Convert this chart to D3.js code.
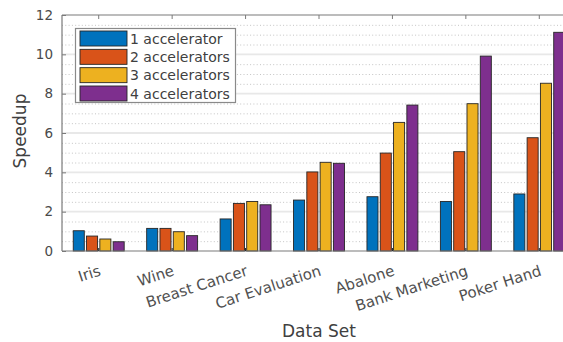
<!DOCTYPE html>
<html>
<head>
<meta charset="utf-8">
<script src="https://cdn.jsdelivr.net/npm/d3@7"></script>
<style>
  body { margin: 0; background: #fff; }
  svg { display: block; font-family: "DejaVu Sans", sans-serif; }
</style>
</head>
<body>
<svg id="chart" width="563" height="342"></svg>
<script>
// Data sets on the x axis
const dataSets = ["Iris", "Wine", "Breast Cancer", "Car Evaluation", "Abalone", "Bank Marketing", "Poker Hand"];
// Series names (number of accelerators)
const seriesNames = ["1 accelerator", "2 accelerators", "3 accelerators", "4 accelerators"];
// Speedup per data set, one array per series
const speedup1 = [1.03, 1.15, 1.63, 2.59, 2.76, 2.52, 2.90];
const speedup2 = [0.76, 1.15, 2.42, 4.02, 4.98, 5.05, 5.76];
const speedup3 = [0.61, 0.98, 2.52, 4.51, 6.54, 7.49, 8.53];
const speedup4 = [0.47, 0.78, 2.35, 4.46, 7.42, 9.91, 11.12];
const yTicks = [0, 2, 4, 6, 8, 10, 12];
const seriesColors = ["#0072BD", "#D95319", "#EDB120", "#7E2F8E"];

const series = [speedup1, speedup2, speedup3, speedup4];

const svg = d3.select("#chart");
const plotL = 62, plotT = 15, plotB = 251, plotR = 576;

const x0 = d3.scaleBand().domain(dataSets).range([plotL, plotR]).padding(0);
const groupW = 53.2;
const x1 = d3.scaleBand().domain(d3.range(seriesNames.length))
  .range([-groupW / 2, groupW / 2]).paddingInner(0.17).paddingOuter(0.085);
const y = d3.scaleLinear().domain([0, 12]).range([plotB, plotT]);

const center = d => x0(d) + x0.bandwidth() / 2;

// minor grid (dotted)
const minor = d3.range(0.5, 12, 0.5).filter(v => v % 2 !== 0);
svg.append("g").selectAll("line").data(minor).join("line")
  .attr("x1", plotL).attr("x2", plotR)
  .attr("y1", d => y(d) + 0.5).attr("y2", d => y(d) + 0.5)
  .attr("stroke", "#c4c4c4").attr("stroke-width", 1)
  .attr("stroke-dasharray", "1,2.3");

// major grid
svg.append("g").selectAll("line").data(yTicks.filter(v => v > 0 && v < 12)).join("line")
  .attr("x1", plotL).attr("x2", plotR)
  .attr("y1", d => y(d)).attr("y2", d => y(d))
  .attr("stroke", "#e8e8e8").attr("stroke-width", 1.8);

// bars
const groups = svg.append("g").selectAll("g").data(dataSets).join("g")
  .attr("transform", d => `translate(${center(d)},0)`);
groups.selectAll("rect")
  .data((d, i) => series.map((s, k) => ({ k, v: s[i] })))
  .join("rect")
  .attr("x", d => x1(d.k))
  .attr("width", x1.bandwidth())
  .attr("y", d => y(d.v))
  .attr("height", d => y(0) - y(d.v))
  .attr("fill", d => seriesColors[d.k])
  .attr("stroke", "#262626").attr("stroke-width", 0.9);

// axes frame
const axisColor = "#7a7a7a";
svg.append("line").attr("x1", plotL).attr("x2", plotR).attr("y1", plotT).attr("y2", plotT)
  .attr("stroke", axisColor).attr("stroke-width", 1.2);
svg.append("line").attr("x1", plotL).attr("x2", plotR).attr("y1", plotB).attr("y2", plotB)
  .attr("stroke", axisColor).attr("stroke-width", 1.2);
svg.append("line").attr("x1", plotL).attr("x2", plotL).attr("y1", plotT).attr("y2", plotB)
  .attr("stroke", axisColor).attr("stroke-width", 1.2);

// y axis ticks and labels
const yAxis = d3.axisLeft(y).tickValues(yTicks).tickSize(-4).tickPadding(9);
const gy = svg.append("g").attr("transform", `translate(${plotL},0)`).call(yAxis);
gy.select(".domain").remove();
gy.selectAll(".tick line").attr("stroke", axisColor);
gy.selectAll(".tick text").attr("font-size", 13.5).attr("fill", "#4a4a4a")
  .attr("font-family", "DejaVu Sans");

// category ticks on top and bottom
svg.append("g").selectAll("line").data(dataSets).join("line")
  .attr("x1", d => center(d)).attr("x2", d => center(d))
  .attr("y1", plotT).attr("y2", plotT + 4).attr("stroke", axisColor);
svg.append("g").selectAll("line").data(dataSets).join("line")
  .attr("x1", d => center(d)).attr("x2", d => center(d))
  .attr("y1", plotB).attr("y2", plotB - 3).attr("stroke", "#222");

// rotated category labels
svg.append("g").selectAll("text").data(dataSets).join("text")
  .attr("transform", d => `translate(${center(d) + 3},${plotB + 24}) rotate(-18)`)
  .attr("text-anchor", "end")
  .attr("font-size", 15).attr("fill", "#505050")
  .text(d => d);

// axis titles
svg.append("text").attr("x", 319).attr("y", 337).attr("text-anchor", "middle")
  .attr("font-size", 17).attr("fill", "#404040").text("Data Set");
svg.append("text").attr("transform", "translate(26,131) rotate(-90)")
  .attr("text-anchor", "middle").attr("font-size", 17).attr("fill", "#404040").text("Speedup");

// legend
const lg = svg.append("g");
lg.append("rect").attr("x", 75.5).attr("y", 28.5).attr("width", 160).attr("height", 74)
  .attr("fill", "#fff").attr("stroke", "#8a8a8a").attr("stroke-width", 1.2);
const rowY = d3.scalePoint().domain(seriesNames).range([38.5, 93.5]);
const items = lg.selectAll("g.item").data(seriesNames).join("g").attr("class", "item")
  .attr("transform", d => `translate(0,${rowY(d)})`);
items.append("rect").attr("x", 80).attr("y", -7.5).attr("width", 47).attr("height", 15)
  .attr("fill", (d, i) => seriesColors[i]).attr("stroke", "#262626").attr("stroke-width", 0.9);
items.append("text").attr("x", 130).attr("y", 5).attr("font-size", 14).attr("fill", "#404040")
  .text(d => d);
</script>
</body>
</html>
